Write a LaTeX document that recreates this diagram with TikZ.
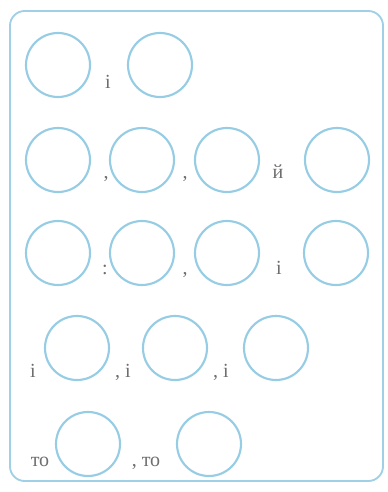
\documentclass[tikz,border=0pt]{standalone}
\usepackage{fontspec}
\setmainfont{Liberation Serif}
\begin{document}
\begin{tikzpicture}[x=0.75pt,y=-0.75pt,
  ring/.style={circle,draw=ringblue,line width=1.6pt,minimum size=48pt,inner sep=0pt},
  lbl/.style={anchor=base,text=txtgray,inner sep=0pt,font=\fontsize{15}{18}\selectfont},
  frame/.style={draw=frameblue,line width=1.4pt,rounded corners=11pt}]
\definecolor{ringblue}{RGB}{150,205,228}
\definecolor{frameblue}{RGB}{160,208,230}
\definecolor{txtgray}{RGB}{110,110,110}
\useasboundingbox (0,0) rectangle (387,492);
\draw[frame] (10,11) rectangle (383,481);
% row 1
\node[ring] (a1) at (58,65) {};
\node[ring] (a2) at (160,65) {};
\node[lbl] (ta1) at (108,89) {і};
% row 2
\node[ring] (b1) at (58,160) {};
\node[ring] (b2) at (142,160) {};
\node[ring] (b3) at (227,160) {};
\node[ring] (b4) at (337,160) {};
\node[lbl] (tb1) at (106,178) {,};
\node[lbl] (tb2) at (185,178) {,};
\node[lbl] (tb3) at (278,178) {й};
% row 3
\node[ring] (c1) at (58,253) {};
\node[ring] (c2) at (142,253) {};
\node[ring] (c3) at (227,253) {};
\node[ring] (c4) at (336,253) {};
\node[lbl] (tc1) at (105,274) {:};
\node[lbl] (tc2) at (185,274) {,};
\node[lbl] (tc3) at (279,274) {і};
% row 4
\node[ring] (d1) at (77,348) {};
\node[ring] (d2) at (175,348) {};
\node[ring] (d3) at (276,348) {};
\node[lbl] (td1) at (33,377) {і};
\node[lbl] (td2) at (123,377) {, і};
\node[lbl] (td3) at (221,377) {, і};
% row 5
\node[ring] (e1) at (88,444) {};
\node[ring] (e2) at (209,444) {};
\node[lbl] (te1) at (40,466) {то};
\node[lbl] (te2) at (146,466) {, то};
\end{tikzpicture}
\end{document}
